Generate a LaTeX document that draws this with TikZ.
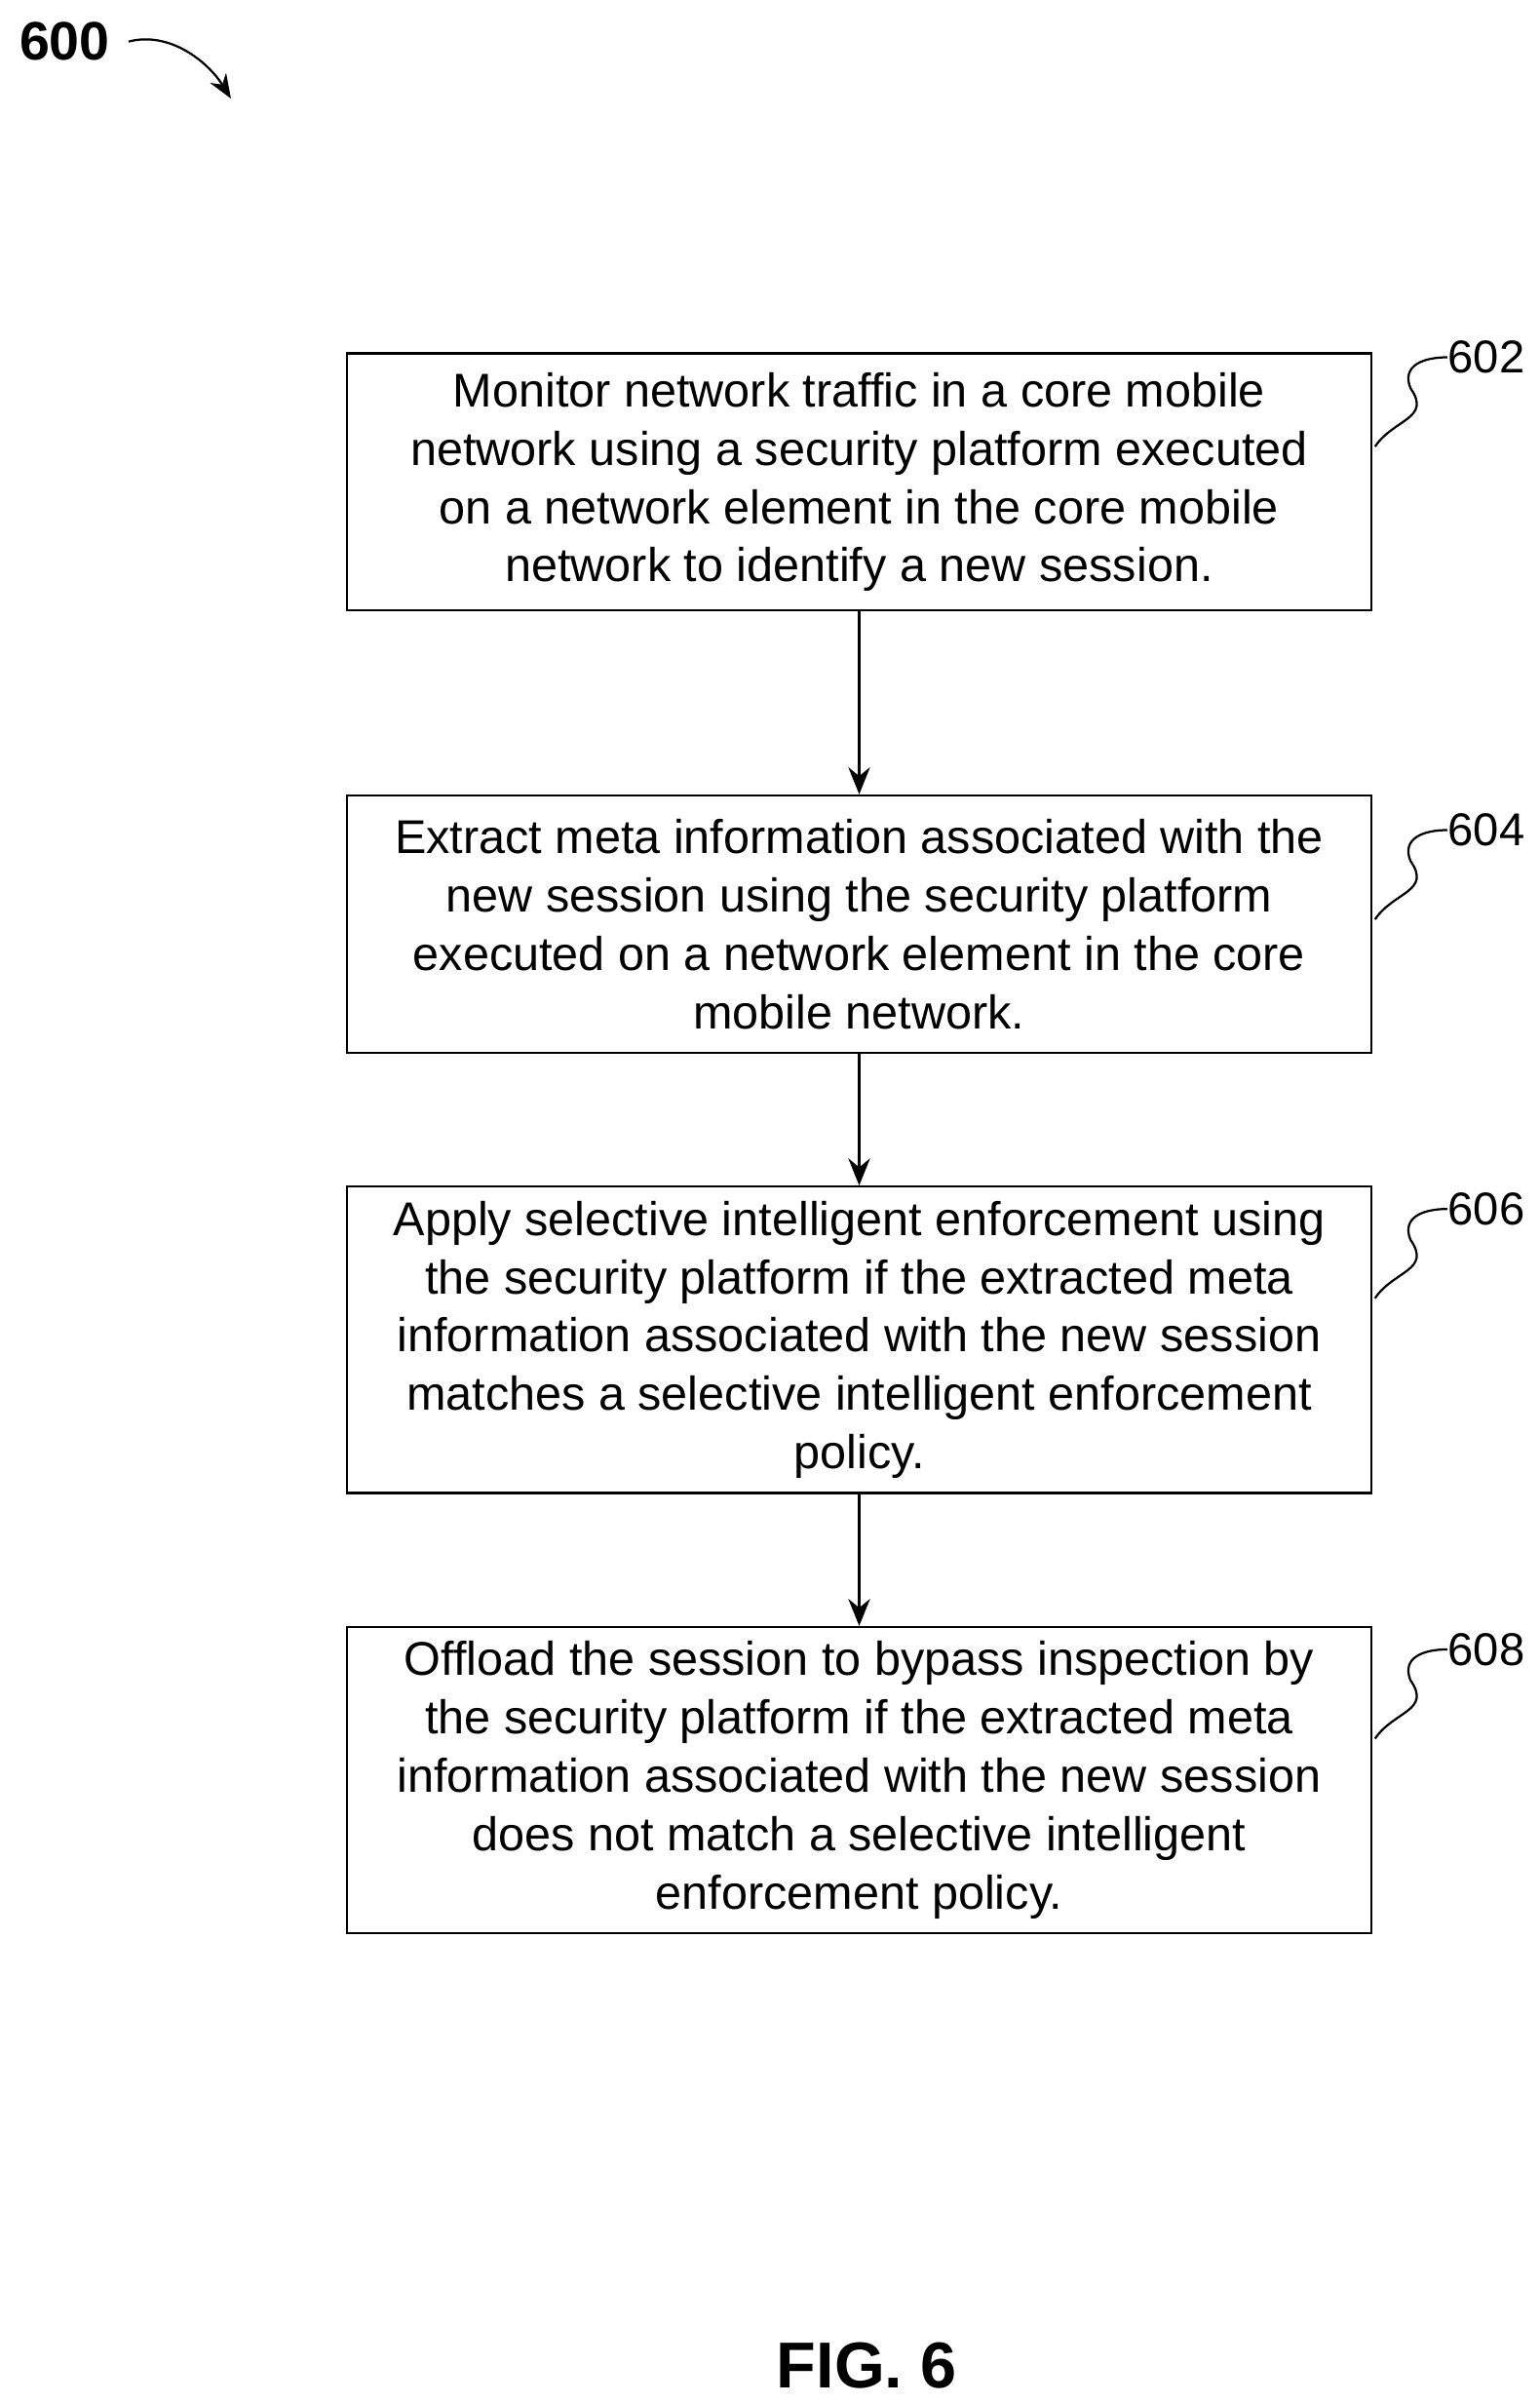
\documentclass[tikz,border=0pt]{standalone}
\usepackage{fontspec}
\setmainfont{Liberation Sans}
\usetikzlibrary{arrows.meta,positioning}
\begin{document}
\begin{tikzpicture}[x=0.02cm,y=-0.02cm,
    stepbox/.style={rectangle, draw=black, thick, minimum width=13.3cm, align=center, inner sep=2pt, font=\fontsize{17.5}{21.6}\selectfont},
    flow/.style={-{Stealth[length=10pt,width=8pt]}, very thick},
    ref/.style={font=\fontsize{17}{20}\selectfont, anchor=west, inner sep=0pt}
]
\useasboundingbox (0,0) rectangle (1000,1561);

% Steps
\node[stepbox, minimum height=3.34cm] (s602) at (558,313) {Monitor network traffic in a core mobile\\network using a security platform executed\\on a network element in the core mobile\\network to identify a new session.};
\node[stepbox, minimum height=3.34cm] (s604) at (558,600) {Extract meta information associated with the\\new session using the security platform\\executed on a network element in the core\\mobile network.};
\node[stepbox, minimum height=3.98cm] (s606) at (558,870) {Apply selective intelligent enforcement using\\the security platform if the extracted meta\\information associated with the new session\\matches a selective intelligent enforcement\\policy.};
\node[stepbox, minimum height=3.98cm] (s608) at (558,1156) {Offload the session to bypass inspection by\\the security platform if the extracted meta\\information associated with the new session\\does not match a selective intelligent\\enforcement policy.};

\draw[flow] (s602) -- (s604);
\draw[flow] (s604) -- (s606);
\draw[flow] (s606) -- (s608);

% Reference numerals
\foreach \n/\y in {602/232, 604/539, 606/785, 608/1071} {
    \node[ref] (r\n) at (940,\y) {\n};
    \draw[thick] (893,\y+58) .. controls (905,\y+40) and (930,\y+40) .. (916,\y+20)
        .. controls (910,\y+5) and (925,\y) .. (r\n.west);
}

\node[font=\bfseries\fontsize{20}{24}\selectfont] (n600) at (42,27) {600};
\draw[-{Stealth[length=9pt,width=7pt]}, thick] (n600.east) ++(6,0) .. controls (110,20) and (135,40) .. (150,64);

\node[font=\bfseries\fontsize{24}{28}\selectfont] (fig) at (563,1536) {FIG. 6};
\end{tikzpicture}
\end{document}
